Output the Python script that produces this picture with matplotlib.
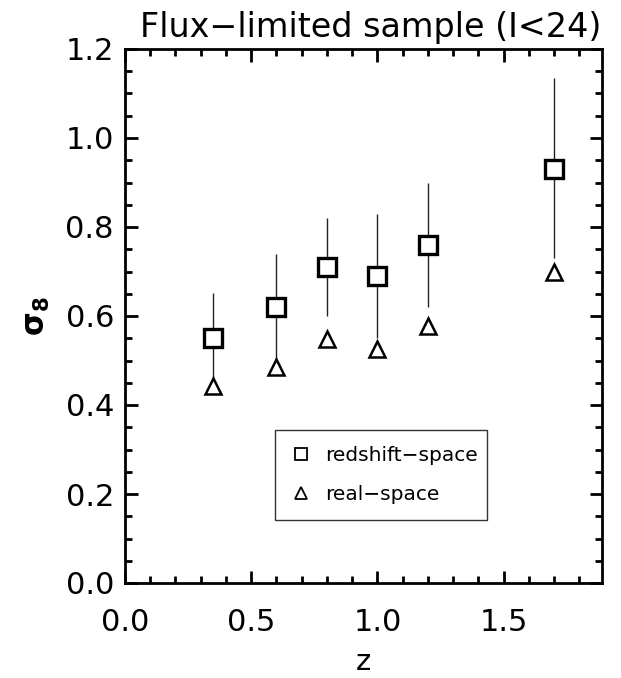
import matplotlib
matplotlib.use("Agg")
import matplotlib.pyplot as plt
from matplotlib.lines import Line2D
from matplotlib.ticker import MultipleLocator
import numpy as np

# Data
z = [0.35, 0.6, 0.8, 1.0, 1.2, 1.7]
sigma8_redshift = [0.55, 0.62, 0.71, 0.69, 0.76, 0.93]
sigma8_upper = [0.652, 0.74, 0.82, 0.83, 0.90, 1.135]
sigma8_lower = [0.456, 0.50, 0.60, 0.55, 0.62, 0.73]
sigma8_real = [0.443, 0.485, 0.548, 0.526, 0.578, 0.70]

title = "Flux\u2212limited sample (I<24)"
legend_labels = ["redshift\u2212space", "real\u2212space"]

plt.rcParams['font.family'] = ['DejaVu Sans']
plt.rcParams['mathtext.fontset'] = 'dejavusans'

fig = plt.figure(figsize=(6.21, 6.78), dpi=100)
ax = fig.add_axes([125/621, 1-583/678, 477/621, 534/678])

s = np.array(sigma8_redshift)
yerr = [s - np.array(sigma8_lower), np.array(sigma8_upper) - s]
ax.errorbar(z, sigma8_redshift, yerr=yerr, fmt='none', ecolor='#222222',
            elinewidth=1.0, capsize=0, zorder=2)
ax.plot(z, sigma8_redshift, linestyle='none', marker='s', markersize=12.5,
        markerfacecolor='white', markeredgecolor='black', markeredgewidth=2.4, zorder=3)
ax.plot(z, sigma8_real, linestyle='none', marker='^', markersize=12,
        markerfacecolor='white', markeredgecolor='black', markeredgewidth=1.8, zorder=3)

ax.set_xlim(0, 1.89)
ax.set_ylim(0, 1.2)
ax.xaxis.set_major_locator(MultipleLocator(0.5))
ax.xaxis.set_minor_locator(MultipleLocator(0.1))
ax.yaxis.set_major_locator(MultipleLocator(0.2))
ax.yaxis.set_minor_locator(MultipleLocator(0.05))
ax.xaxis.set_major_formatter(matplotlib.ticker.FormatStrFormatter('%.1f'))
ax.yaxis.set_major_formatter(matplotlib.ticker.FormatStrFormatter('%.1f'))

ax.tick_params(which='both', direction='in', top=True, right=True, width=2, color='black')
ax.tick_params(which='major', length=9, labelsize=22)
ax.tick_params(which='minor', length=5)
ax.tick_params(axis='x', which='major', pad=18)
ax.tick_params(axis='y', which='major', pad=8)
for sp in ax.spines.values():
    sp.set_linewidth(2)

ax.set_xlabel('z', fontsize=21, labelpad=8)
ax.set_ylabel(r'$\mathbf{\sigma_8}$', fontsize=22, labelpad=10)
ax.set_title(title, fontsize=24, pad=9, x=0.515)

handles = [
    Line2D([], [], linestyle='none', marker='s', markersize=8, markerfacecolor='white',
           markeredgecolor='black', markeredgewidth=1.3),
    Line2D([], [], linestyle='none', marker='^', markersize=8, markerfacecolor='white',
           markeredgecolor='black', markeredgewidth=1.3),
]
leg = ax.legend(handles, legend_labels, loc='lower left',
                bbox_to_anchor=(0.3145, 0.118, 0.4445, 0.172), mode='expand',
                fancybox=False, framealpha=1, edgecolor='#333333', fontsize=14.5,
                handlelength=1.0, handletextpad=0.7, labelspacing=1.0,
                borderpad=0.8, borderaxespad=0)
leg.get_frame().set_linewidth(1.0)

fig.savefig('out.png', dpi=100)
